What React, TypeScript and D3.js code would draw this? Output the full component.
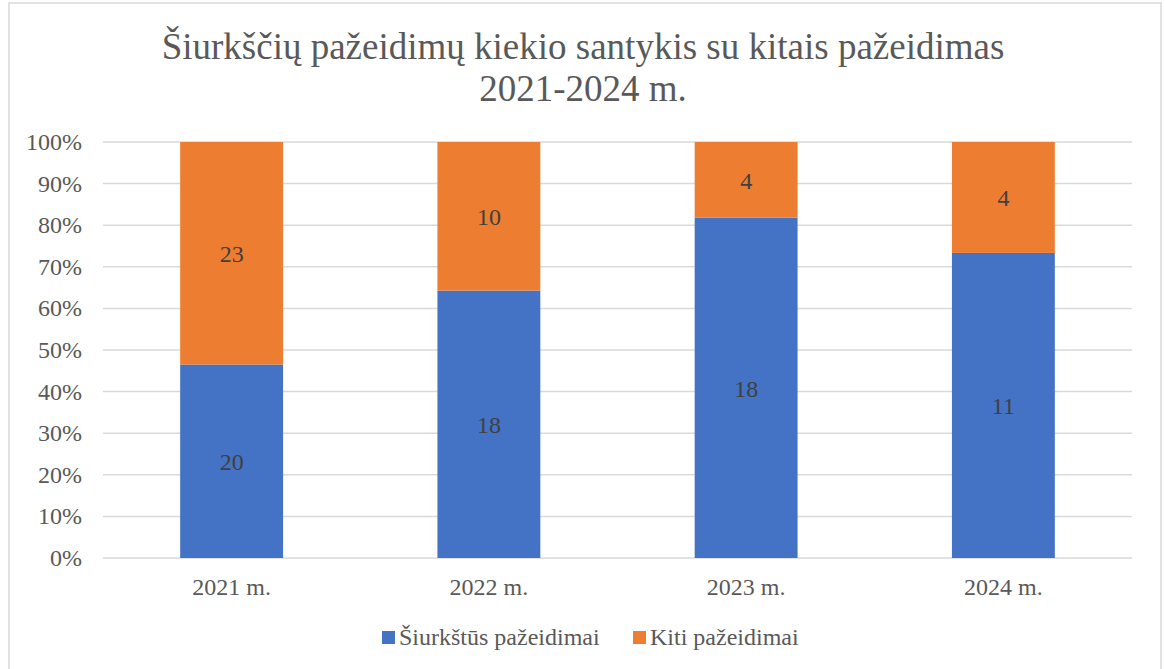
import React from "react";
import * as d3 from "d3";

const categories = ["2021 m.", "2022 m.", "2023 m.", "2024 m."];
const seriesNames = ["Šiurkštūs pažeidimai", "Kiti pažeidimai"];
const severeValues = [20, 18, 18, 11];
const otherValues = [23, 10, 4, 4];
const yTicks = [0, 0.1, 0.2, 0.3, 0.4, 0.5, 0.6, 0.7, 0.8, 0.9, 1];
const titleLines = ["Šiurkščių pažeidimų kiekio santykis su kitais pažeidimas", "2021-2024 m."];
const colors = ["#4472C4", "#ED7D31"];

export default function App() {
  const W = 1165, H = 669;
  const left = 103, right = 1132, top = 142, bottom = 558;
  const x = d3.scaleBand().domain(categories).range([left, right]).paddingInner(0.6).paddingOuter(0.3);
  const y = d3.scaleLinear().domain([0, 1]).range([bottom, top]);
  const rows = categories.map((c, i) => ({ cat: c, severe: severeValues[i], other: otherValues[i] }));
  const stack = d3.stack<any>().keys(["severe", "other"]).offset(d3.stackOffsetExpand);
  const series = stack(rows);
  const font = "Liberation Serif, Times New Roman, serif";
  const textColor = "#595959";
  return (
    <svg width={W} height={H} style={{ position: "absolute", left: 0, top: 0 }} fontFamily={font}>
      <rect x={0} y={0} width={W} height={H} fill="#fff" />
      <rect x={9} y={3} width={1152} height={700} fill="none" stroke="#d9d9d9" strokeWidth={1.5} />
      {titleLines.map((t, i) => (
        <text key={i} x={583} y={59 + i * 42} textAnchor="middle" fontSize={37} fill={textColor}>{t}</text>
      ))}
      {yTicks.map((t) => (
        <g key={t}>
          <line x1={left} x2={right} y1={y(t)} y2={y(t)} stroke="#d9d9d9" strokeWidth={1.5} />
          <text x={82} y={y(t) + 8} textAnchor="end" fontSize={24} fill={textColor}>{d3.format(".0%")(t)}</text>
        </g>
      ))}
      {series.map((s, si) => (
        <g key={si}>
          {s.map((d, i) => {
            const cat = categories[i];
            const y0 = y(d[0]), y1 = y(d[1]);
            const val = si === 0 ? severeValues[i] : otherValues[i];
            return (
              <g key={cat}>
                <rect x={x(cat)} y={y1} width={x.bandwidth()} height={y0 - y1} fill={colors[si]} />
                <text x={x(cat)! + x.bandwidth() / 2} y={(y0 + y1) / 2 + 9} textAnchor="middle" fontSize={24} fill="#404040">{val}</text>
              </g>
            );
          })}
        </g>
      ))}
      {categories.map((c) => (
        <text key={c} x={x(c)! + x.bandwidth() / 2} y={595} textAnchor="middle" fontSize={24} fill={textColor}>{c}</text>
      ))}
      <g>
        <rect x={382} y={631} width={13} height={13} fill={colors[0]} />
        <text x={399} y={645} fontSize={24} fill={textColor}>{seriesNames[0]}</text>
        <rect x={633} y={631} width={13} height={13} fill={colors[1]} />
        <text x={650} y={645} fontSize={24} fill={textColor}>{seriesNames[1]}</text>
      </g>
    </svg>
  );
}
